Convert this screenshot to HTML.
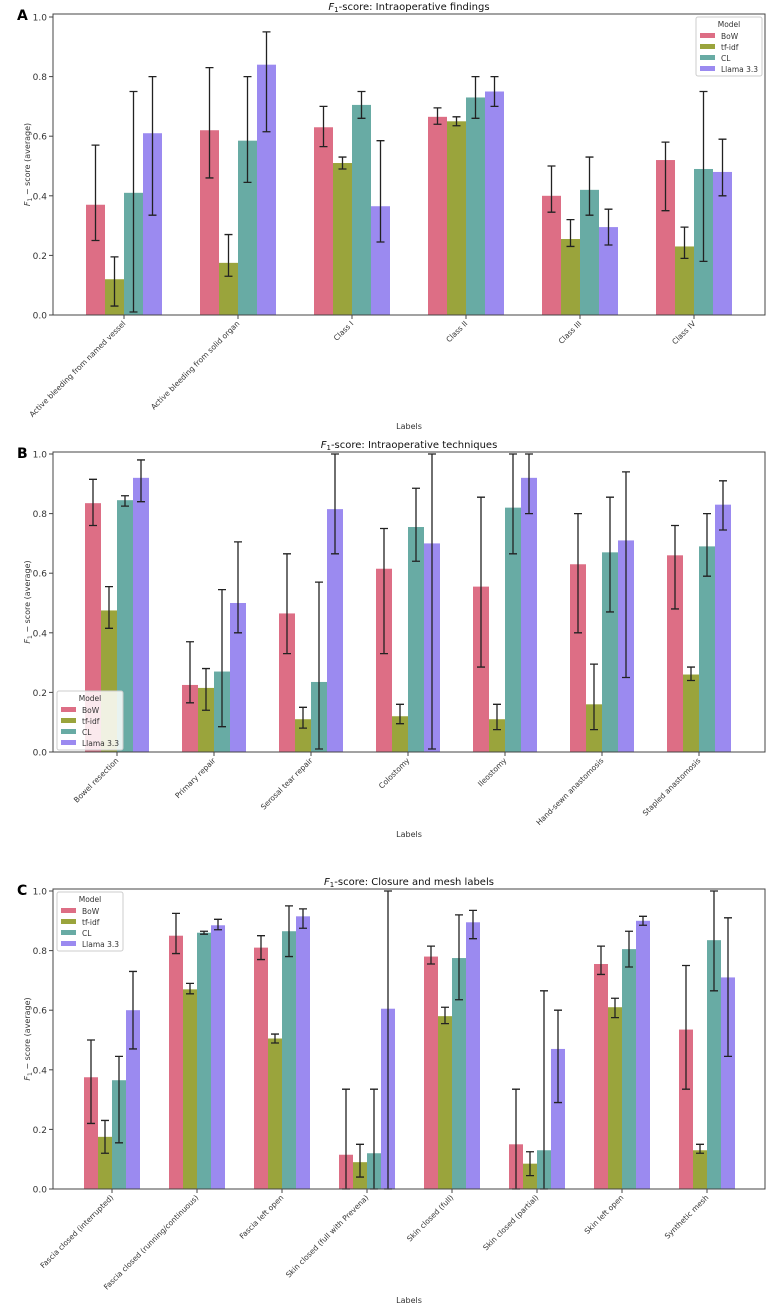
<!DOCTYPE html>
<html><head><meta charset="utf-8"><style>
body{margin:0;background:#fff}
svg{display:block;font-family:"DejaVu Sans","Liberation Sans",sans-serif}
</style></head><body>
<svg id="fig" width="780" height="1312"></svg>
<script>
const models=["BoW","tf-idf","CL","Llama 3.3"];
const colors=["#dd6e85","#9aa43c","#68aba4","#9b8af0"];
const catsA=["Active bleeding from named vessel","Active bleeding from solid organ","Class I","Class II","Class III","Class IV"];
const valsA=[[.37,.12,.41,.61],[.62,.175,.585,.84],[.63,.51,.705,.365],[.665,.65,.73,.75],[.40,.255,.42,.295],[.52,.23,.49,.48]];
const loA=[[.25,.03,.01,.335],[.46,.13,.445,.615],[.565,.49,.66,.245],[.64,.635,.66,.70],[.345,.23,.335,.235],[.35,.19,.18,.40]];
const hiA=[[.57,.195,.75,.80],[.83,.27,.80,.95],[.70,.53,.75,.585],[.695,.665,.80,.80],[.50,.32,.53,.355],[.58,.295,.75,.59]];
const catsB=["Bowel resection","Primary repair","Serosal tear repair","Colostomy","Ileostomy","Hand-sewn anastomosis","Stapled anastomosis"];
const valsB=[[.835,.475,.845,.92],[.225,.215,.27,.50],[.465,.11,.235,.815],[.615,.12,.755,.70],[.555,.11,.82,.92],[.63,.16,.67,.71],[.66,.26,.69,.83]];
const loB=[[.76,.415,.825,.84],[.165,.14,.085,.40],[.33,.08,.01,.665],[.33,.095,.64,.01],[.285,.075,.665,.80],[.40,.075,.47,.25],[.48,.24,.59,.745]];
const hiB=[[.915,.555,.86,.98],[.37,.28,.545,.705],[.665,.15,.57,1.0],[.75,.16,.885,1.0],[.855,.16,1.0,1.0],[.80,.295,.855,.94],[.76,.285,.80,.91]];
const catsC=["Fascia closed (interrupted)","Fascia closed (running/continuous)","Fascia left open","Skin closed (full with Prevena)","Skin closed (full)","Skin closed (partial)","Skin left open","Synthetic mesh"];
const valsC=[[.375,.175,.365,.60],[.85,.67,.86,.885],[.81,.505,.865,.915],[.115,.09,.12,.605],[.78,.58,.775,.895],[.15,.085,.13,.47],[.755,.61,.805,.90],[.535,.13,.835,.71]];
const loC=[[.22,.12,.155,.47],[.79,.655,.855,.87],[.77,.49,.78,.875],[0,.04,0,0],[.755,.555,.635,.84],[0,.045,0,.29],[.72,.575,.745,.885],[.335,.12,.665,.445]];
const hiC=[[.50,.23,.445,.73],[.925,.69,.865,.905],[.85,.52,.95,.94],[.335,.15,.335,1.0],[.815,.61,.92,.935],[.335,.125,.665,.60],[.815,.64,.865,.915],[.75,.15,1.0,.91]];
const ticks=[0,0.2,0.4,0.6,0.8,1.0];
const NS="http://www.w3.org/2000/svg";
const svg=document.getElementById("fig");
function mk(t,a,p,txt){const e=document.createElementNS(NS,t);for(const k in a)e.setAttribute(k,a[k]);if(txt!==undefined)e.textContent=txt;(p||svg).appendChild(e);return e;}
function panel(o){
 const g=mk("g",{});
 
 
 const y=v=>o.y0-(o.y0-o.y1)*v;
 const cx=i=>o.c0+o.sp*i;
 const bw=o.bw;
 o.vals.forEach((row,i)=>row.forEach((v,j)=>{
  const x=cx(i)-2*bw+j*bw;
  const r=mk("rect",{x:x,y:y(v),width:bw,height:y(0)-y(v),fill:colors[j]},g);
  
  
 }));
 o.vals.forEach((row,i)=>row.forEach((v,j)=>{
  const xm=cx(i)-2*bw+(j+0.5)*bw, lo=y(o.lo[i][j]), hi=y(o.hi[i][j]);
  const e=mk("path",{d:`M${xm},${lo}V${hi}M${xm-4},${lo}H${xm+4}M${xm-4},${hi}H${xm+4}`,stroke:"#222",'stroke-width':1.3,fill:"none"},g);
  
  
 }));
 mk("rect",{x:o.left,y:o.top,width:o.right-o.left,height:o.y0-o.top,fill:"none",stroke:"#444","stroke-width":1},g);
 ticks.forEach(t=>{
  mk("line",{x1:o.left-4,x2:o.left,y1:y(t),y2:y(t),stroke:"#444"},g);
  const tl=mk("text",{x:o.left-6,y:y(t)+3.5,"font-size":9,"text-anchor":"end",fill:"#333"},g,t.toFixed(1));
  
  
 });
 o.cats.forEach((c,i)=>{
  mk("line",{x1:cx(i),x2:cx(i),y1:o.y0,y2:o.y0+4,stroke:"#444"},g);
  const t=mk("text",{x:cx(i)+2,y:o.y0+9,"font-size":7.5,"text-anchor":"end",fill:"#333",transform:`rotate(-45 ${cx(i)+2} ${o.y0+9})`},g,c);
  
  
 });
 const tt=mk("text",{x:(o.left+o.right)/2,y:o.top-4,"font-size":10,"text-anchor":"middle",fill:"#111"},g);
 
 
 mk("tspan",{"font-style":"italic"},tt,"F");
 mk("tspan",{"font-size":7,dy:2},tt,"1");
 mk("tspan",{dy:-2},tt,"-score: "+o.title);
 const lt=mk("text",{x:17,y:o.top+6,"font-size":14,"font-weight":"bold",fill:"#000"},g,o.letter);
 
 
 const yl=mk("text",{x:30,y:(o.top+o.y0)/2,"font-size":8,"text-anchor":"middle",fill:"#333",transform:`rotate(-90 30 ${(o.top+o.y0)/2})`},g);
 
 
 mk("tspan",{"font-style":"italic"},yl,"F");
 mk("tspan",{"font-size":6,dy:2},yl,"1");
 mk("tspan",{dy:-2},yl," − score (average)");
 const xl=mk("text",{x:(o.left+o.right)/2,y:o.xl,"font-size":8,"text-anchor":"middle",fill:"#333"},g,"Labels");
 
 
 const L=mk("g",{},g);
 
 
 mk("rect",{x:o.lx,y:o.ly,width:66,height:59,rx:2,fill:"#fff","fill-opacity":0.85,stroke:"#ccc"},L);
 mk("text",{x:o.lx+33,y:o.ly+10,"font-size":7.5,"text-anchor":"middle",fill:"#333"},L,"Model");
 models.forEach((m,j)=>{
  const e=mk("g",{},L);
  
  
  mk("rect",{x:o.lx+4,y:o.ly+16+j*11,width:15,height:5,fill:colors[j]},e);
  mk("text",{x:o.lx+25,y:o.ly+22+j*11,"font-size":7.5,fill:"#333"},e,m);
 });
}
panel({letter:"A",title:"Intraoperative findings",cats:catsA,vals:valsA,lo:loA,hi:hiA,left:53,right:765,top:14,y1:17,y0:315,c0:124,sp:114,bw:19,xl:429,lx:696,ly:17});
panel({letter:"B",title:"Intraoperative techniques",cats:catsB,vals:valsB,lo:loB,hi:hiB,left:53,right:765,top:452,y1:454,y0:752,c0:117,sp:97,bw:16,xl:837,lx:57,ly:691});
panel({letter:"C",title:"Closure and mesh labels",cats:catsC,vals:valsC,lo:loC,hi:hiC,left:53,right:765,top:889,y1:891,y0:1189,c0:112,sp:85,bw:14,xl:1303,lx:57,ly:892});
</script>
</body></html>
